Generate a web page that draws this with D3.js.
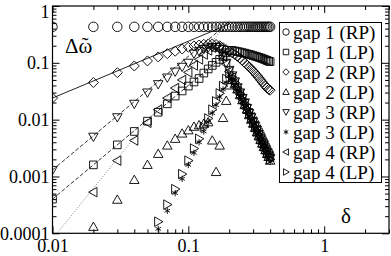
<!DOCTYPE html>
<html>
<head>
<meta charset="utf-8">
<script src="https://cdn.jsdelivr.net/npm/d3@7"></script>
<style>
  html, body { margin: 0; padding: 0; background: #fff; }
  svg { display: block; }
  svg text { font-family: "Liberation Serif", "Times New Roman", "DejaVu Serif", serif; fill: #000; }
</style>
</head>
<body>
<svg id="chart" width="391" height="256"></svg>
<script>
// ---------------- DATA ----------------
const deltaGrid = [0.01,0.02,0.03,0.04,0.05,0.06,0.07,0.08,0.09,0.10,
                   0.11,0.12,0.13,0.14,0.15,0.16,0.17,0.18,0.19,0.20,
                   0.21,0.22,0.23,0.24,0.25,0.26,0.27,0.28,0.29,0.30,
                   0.31,0.32,0.33,0.34,0.35,0.36,0.37,0.38,0.39,0.40];

const gap1RP = [0.43,0.43,0.43,0.43,0.43,0.43,0.43,0.43,0.43,0.43,
                0.43,0.43,0.43,0.43,0.43,0.43,0.43,0.43,0.43,0.43,
                0.43,0.43,0.43,0.43,0.43,0.43,0.43,0.43,0.43,0.43,
                0.43,0.43,0.43,0.43,0.43,0.43,0.43,0.43,0.43,0.43];

const gap1LP = [0.0004,0.0016,0.0036,0.0062,0.0094,0.0135,0.019,0.026,0.032,0.039,
                0.046,0.053,0.066,0.078,0.09,0.102,0.115,0.13,0.15,0.166,
                0.165,0.162,0.158,0.155,0.151,0.148,0.144,0.141,0.138,0.134,
                0.131,0.128,0.125,0.122,0.119,0.116,0.113,0.11,0.107,0.105];

const gap2RP = [0.024,0.045,0.067,0.088,0.108,0.127,0.145,0.16,0.175,0.188,
                0.198,0.206,0.212,0.215,0.215,0.21,0.2,0.185,0.17,0.16,
                0.15,0.14,0.13,0.12,0.11,0.10,0.092,0.085,0.078,0.072,
                0.066,0.06,0.055,0.05,0.046,0.042,0.039,0.036,0.034,0.033];

const gap2LP = [null,0.00013,0.00039,0.00087,0.0016,0.0025,0.0035,0.0046,0.0057,0.0065,
                0.0075,0.008,0.0085,0.009,0.0043,0.0012,0.0035,0.0107,0.0214,0.04,
                0.05,0.042,0.034,0.027,0.022,0.018,0.015,0.012,0.010,0.0085,
                0.0072,0.006,0.0051,0.0044,0.0038,0.0033,0.0029,0.0025,0.0022,0.0019];

const gap3RP = [0.0013,0.005,0.011,0.019,0.03,0.042,0.055,0.07,0.085,0.10,
                0.145,0.16,0.175,0.185,0.19,0.19,0.175,0.14,0.10,0.075,
                0.06,0.047,0.037,0.03,0.024,0.02,0.016,0.013,0.011,0.0092,
                0.0078,0.0066,0.0056,0.0048,0.0041,0.0036,0.0031,0.0027,0.0024,0.0021];

const gap3LP = [null,null,null,null,null,0.00012,0.00025,0.00051,0.00091,0.0016,
                0.0026,0.004,0.0062,0.009,0.013,0.018,0.025,0.034,0.045,0.058,
                0.05,0.04,0.032,0.026,0.021,0.017,0.014,0.0115,0.0095,0.008,
                0.0067,0.0057,0.0048,0.0041,0.0035,0.0031,0.0027,0.0024,0.0021,0.0018];

const gap4RP = [null,0.00053,0.0019,0.0043,0.0088,0.015,0.024,0.036,0.05,0.068,
                0.09,0.115,0.14,0.165,0.185,0.19,0.17,0.13,0.095,0.07,
                0.055,0.044,0.035,0.028,0.023,0.019,0.0155,0.013,0.011,0.0093,
                0.0079,0.0067,0.0058,0.005,0.0043,0.0037,0.0032,0.0028,0.0025,0.0022];

const gap4LP = [null,null,null,null,null,0.00016,0.00032,0.0006,0.0011,0.0019,
                0.0031,0.0046,0.0074,0.0105,0.015,0.021,0.029,0.039,0.052,0.065,
                0.056,0.045,0.036,0.029,0.023,0.019,0.0155,0.0128,0.0105,0.0088,
                0.0074,0.0062,0.0053,0.0045,0.0039,0.0034,0.003,0.0026,0.0023,0.002];

// fitted power-law guide lines (data-space end points)
const fitSolid   = [[0.01, 0.024], [0.20, 0.48]];    // through gap 2 (RP)
const fitDashA   = [[0.01, 0.0013], [0.20, 0.52]];   // through gap 3 (RP)
const fitDashB   = [[0.01, 0.0004], [0.20, 0.16]];   // through gap 1 (LP)
const fitDotted  = [[0.0108, 0.0001], [0.20, 0.56]]; // through gap 4 (RP)

const seriesNames = ["gap 1 (RP)","gap 1 (LP)","gap 2 (RP)","gap 2 (LP)",
                     "gap 3 (RP)","gap 3 (LP)","gap 4 (RP)","gap 4 (LP)"];
const seriesMarkers = ["circle","square","diamond","triUp","triDown","star","triLeft","triRight"];
const seriesValues = [gap1RP, gap1LP, gap2RP, gap2LP, gap3RP, gap3LP, gap4RP, gap4LP];

const xMajorTicks = [0.01, 0.1, 1];
const xTickLabels = ["0.01", "0.1", "1"];
const xMinorTicks = [0.02,0.03,0.04,0.05,0.06,0.07,0.08,0.09,0.2,0.3,0.4,0.5,0.6,0.7,0.8,0.9,2,3];
const yMajorTicks = [0.0001, 0.001, 0.01, 0.1, 1];
const yTickLabels = ["0.0001", "0.001", "0.01", "0.1", "1"];
const yMinorTicks = [];
[0.0001, 0.001, 0.01, 0.1].forEach(d => { for (let k = 2; k <= 9; k++) yMinorTicks.push(+(d * k).toPrecision(3)); });

// ---------------- CHART ----------------
const FONT = '"Liberation Serif", "Times New Roman", "DejaVu Serif", serif';
const svg = d3.select("#chart");
const L = 52.5, R = 389, T = 6, B = 233.3;
const x = d3.scaleLog().domain([0.01, 3]).range([L, R]);
const y = d3.scaleLog().domain([0.0001, 1]).range([B, T]);

function markerPath(type, s) {
  const h = s / 2;
  switch (type) {
    case "circle": { const p = d3.path(); p.moveTo(h, 0); p.arc(0, 0, h, 0, 2 * Math.PI); return p.toString(); }
    case "square": { const a = h * 0.85; return `M${-a},${-a}H${a}V${a}H${-a}Z`; }
    case "diamond": return `M0,${-h}L${h},0L0,${h}L${-h},0Z`;
    case "triUp": return `M0,${-h}L${h},${h * 0.75}L${-h},${h * 0.75}Z`;
    case "triDown": return `M0,${h}L${h},${-h * 0.75}L${-h},${-h * 0.75}Z`;
    case "triLeft": return `M${-h},0L${h * 0.75},${-h}L${h * 0.75},${h}Z`;
    case "triRight": return `M${h},0L${-h * 0.75},${-h}L${-h * 0.75},${h}Z`;
    case "star": {
      const a = h * 0.8, c = a * Math.cos(Math.PI / 6), sn = a * Math.sin(Math.PI / 6);
      return `M0,${-a}V${a}M${-c},${-sn}L${c},${sn}M${-c},${sn}L${c},${-sn}`;
    }
  }
}

// guide lines
const lineGen = d3.line().x(d => x(d[0])).y(d => y(d[1]));
svg.append("clipPath").attr("id", "plotclip")
  .append("rect").attr("x", L).attr("y", T).attr("width", R - L).attr("height", B - T);
const plot = svg.append("g").attr("clip-path", "url(#plotclip)");
plot.append("path").attr("d", lineGen(fitSolid)).attr("fill", "none").attr("stroke", "#222").attr("stroke-width", 1);
plot.append("path").attr("d", lineGen(fitDashA)).attr("fill", "none").attr("stroke", "#333").attr("stroke-width", 1).attr("stroke-dasharray", "4,2");
plot.append("path").attr("d", lineGen(fitDashB)).attr("fill", "none").attr("stroke", "#333").attr("stroke-width", 1).attr("stroke-dasharray", "4,2");
plot.append("path").attr("d", lineGen(fitDotted)).attr("fill", "none").attr("stroke", "#888").attr("stroke-width", 1).attr("stroke-dasharray", "1,1.5");

// markers
const markerSize = { circle: 9.5, square: 9, diamond: 10, triUp: 9.5, triDown: 9.5, triLeft: 9.5, triRight: 9.5, star: 8 };
seriesValues.forEach((vals, i) => {
  const type = seriesMarkers[i];
  const pts = deltaGrid.map((d, j) => [d, vals[j]]).filter(p => p[1] != null);
  plot.append("g").selectAll("path").data(pts).join("path")
    .attr("transform", p => `translate(${x(p[0])},${y(p[1])})`)
    .attr("d", markerPath(type, markerSize[type]))
    .attr("fill", "none").attr("stroke", "#000").attr("stroke-width", 0.9);
});

// axes (ticks inward, mirrored)
function drawAxis(axisFn, scale, ticks, size, labels, transform) {
  const ax = axisFn(scale).tickValues(ticks).tickSizeOuter(0).tickSizeInner(size)
    .tickFormat((d, i) => labels ? labels[i] : "");
  const g = svg.append("g").attr("transform", transform).call(ax);
  g.attr("font-family", FONT);
  g.select(".domain").remove();
  g.selectAll("line").attr("stroke", "#000").attr("stroke-width", 1);
  return g;
}
const gxb = drawAxis(d3.axisBottom, x, xMajorTicks, -7, xTickLabels, `translate(0,${B})`);
gxb.selectAll("text").attr("font-size", 18).attr("y", 6).attr("dy", "0.71em");
drawAxis(d3.axisBottom, x, xMinorTicks, -4, null, `translate(0,${B})`);
drawAxis(d3.axisTop, x, xMajorTicks, -7, null, `translate(0,${T})`);
drawAxis(d3.axisTop, x, xMinorTicks, -4, null, `translate(0,${T})`);
const gyl = drawAxis(d3.axisLeft, y, yMajorTicks, -7, yTickLabels, `translate(${L},0)`);
gyl.selectAll("text").attr("font-size", 18).attr("x", -3)
  .attr("dy", (d, i) => i === yMajorTicks.length - 1 ? "0.62em" : "0.34em");
drawAxis(d3.axisLeft, y, yMinorTicks, -4, null, `translate(${L},0)`);
drawAxis(d3.axisRight, y, yMajorTicks, -7, null, `translate(${R},0)`);
drawAxis(d3.axisRight, y, yMinorTicks, -4, null, `translate(${R},0)`);

// frame
svg.append("rect").attr("x", L).attr("y", T).attr("width", R - L).attr("height", B - T)
  .attr("fill", "none").attr("stroke", "#000").attr("stroke-width", 1.2);

// axis titles
const yTitle = svg.append("text").attr("x", 65).attr("y", 53).attr("font-size", 21);
yTitle.append("tspan").text("\u0394\u03C9");
yTitle.append("tspan").attr("dx", -10.9).attr("dy", -1).text("\u02DC");
svg.append("text").attr("x", 341).attr("y", 223).attr("font-size", 21).text("\u03B4");

// legend
const lg = svg.append("g");
lg.append("rect").attr("x", 279.5).attr("y", 22.5).attr("width", 102).attr("height", 160)
  .attr("fill", "#fff").attr("stroke", "#000").attr("stroke-width", 1);
seriesNames.forEach((name, i) => {
  const cy = 32 + i * 20;
  lg.append("path").attr("transform", `translate(286,${cy})`)
    .attr("d", markerPath(seriesMarkers[i], 6.5))
    .attr("fill", "none").attr("stroke", "#000").attr("stroke-width", 0.9);
  lg.append("text").attr("x", 293).attr("y", cy).attr("dy", "0.35em").attr("font-size", 19).text(name);
});
</script>
</body>
</html>
